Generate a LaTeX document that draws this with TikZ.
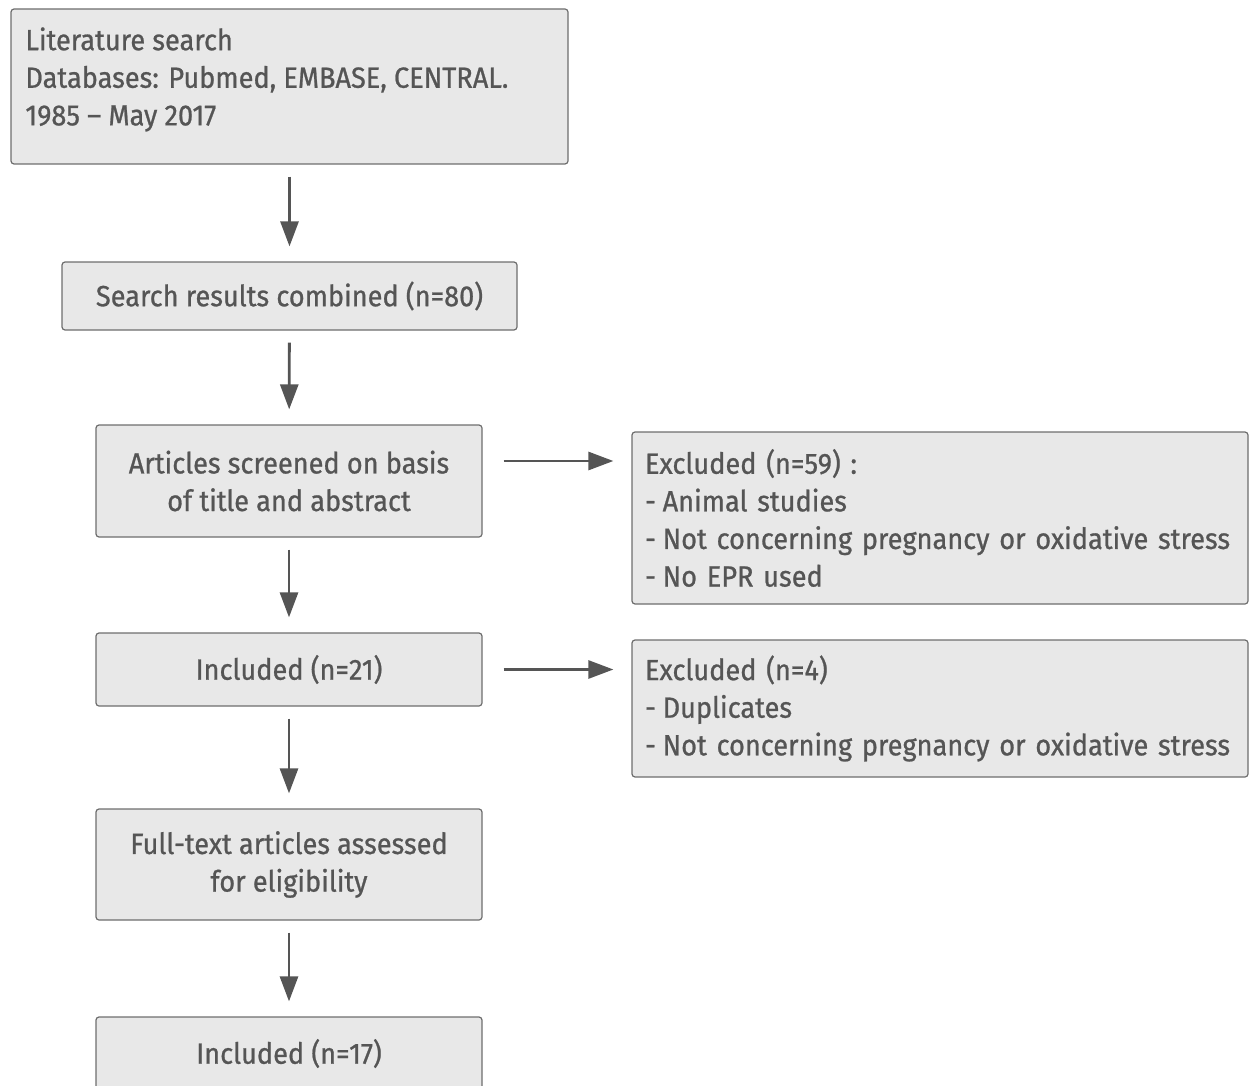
\documentclass[tikz,border=0pt]{standalone}
\usepackage{fontspec}
\setmainfont{Fira Sans}[FakeStretch=0.93, FakeBold=0.8]
\usetikzlibrary{arrows.meta,positioning}
\definecolor{boxfill}{HTML}{E8E8E8}
\definecolor{boxline}{HTML}{6E6E6E}
\definecolor{inkgray}{HTML}{555555}
\newcommand{\bul}{-\kern-1.5pt\ }
\tikzset{
  stage/.style={draw=boxline, fill=boxfill, line width=0.6pt, rounded corners=1.5pt,
                text=inkgray, align=center, inner sep=0pt,
                font=\fontsize{14.6pt}{18.8pt}\selectfont},
  flow/.style={-{Triangle[length=12.5pt,width=9pt]}, draw=inkgray, line width=1.4pt,
               shorten <=6pt, shorten >=7.5pt},
}
\begin{document}
\begin{tikzpicture}[x=0.5pt, y=-0.5pt]
    \useasboundingbox (0,0) rectangle (1249,1086);
    \clip (0,0) rectangle (1249,1086);
    % left column
    \node[stage, minimum width=278.5pt, minimum height=77.5pt] (search) at (289.5, 86.5) {};
    \node[text=inkgray, align=left, inner sep=0pt, anchor=north west,
          font=\fontsize{14.6pt}{18.8pt}\selectfont] (searchtxt) at (25, 27)
          {Literature search\\Databases: Pubmed, EMBASE, CENTRAL.\\1985 – May 2017};
    \node[stage, minimum width=227.5pt, minimum height=34pt] (combined) at (289.5, 296) {Search results combined (n=80)};
    \node[stage, minimum width=193pt, minimum height=56pt] (screened) at (289, 481) {Articles screened on basis\\of title and abstract};
    \node[stage, minimum width=193pt, minimum height=36.5pt] (incl21) at (289, 669.5) {Included (n=21)};
    \node[stage, minimum width=193pt, minimum height=55.5pt] (fulltext) at (289, 864.5) {Full-text articles assessed\\for eligibility};
    \node[stage, minimum width=193pt, minimum height=36.5pt] (incl17) at (289, 1053.5) {Included (n=17)};
    % right column
    \node[stage, align=left, minimum width=308pt, minimum height=86pt, text width=295pt,
          inner xsep=6.5pt] (excl59) at (940, 518)
          {Excluded (n=59) :\\\bul Animal studies\\\bul Not concerning pregnancy or oxidative stress\\\bul No EPR used};
    \node[stage, align=left, minimum width=308pt, minimum height=68.5pt, text width=295pt,
          inner xsep=6.5pt] (excl4) at (940, 708.5)
          {Excluded (n=4)\\\bul Duplicates\\\bul Not concerning pregnancy or oxidative stress};
    % arrows
    \draw[flow] (search) -- (combined);
    \draw[flow] (combined) -- (screened);
    \draw[flow] (screened) -- (incl21);
    \draw[flow] (incl21) -- (fulltext);
    \draw[flow] (fulltext) -- (incl17);
    \draw[flow, shorten <=10.5pt, shorten >=9pt] ([yshift=10pt]screened.east) -- ([yshift=10pt]screened.east -| excl59.west);
    \draw[flow, shorten <=10.5pt, shorten >=9pt] (incl21.east) -- (incl21.east -| excl4.west);
\end{tikzpicture}
\end{document}
